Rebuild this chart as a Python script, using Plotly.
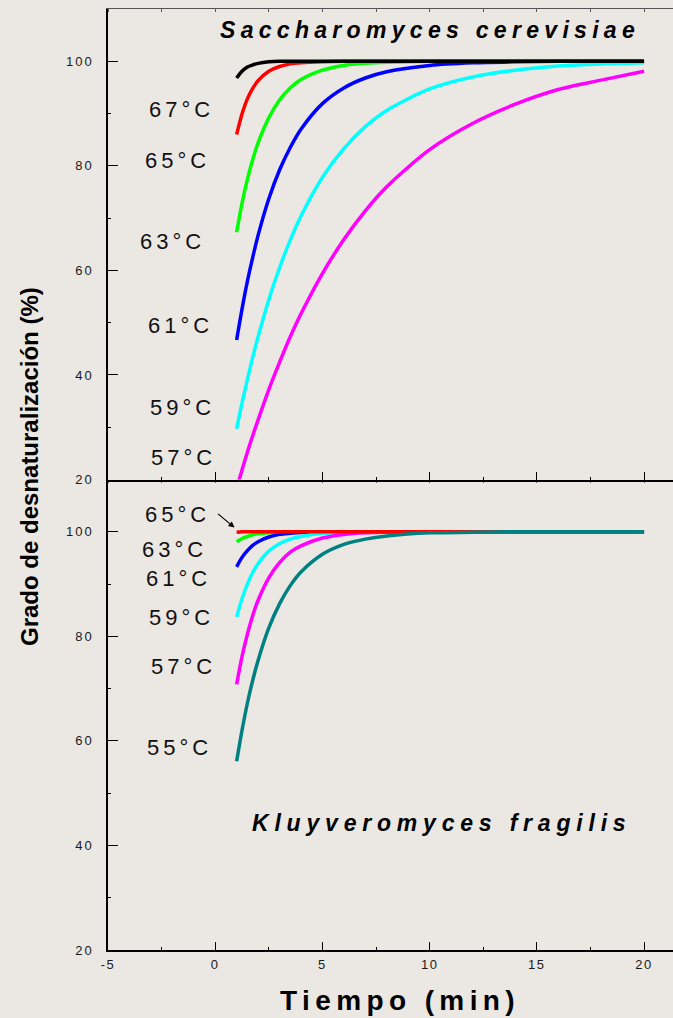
import plotly.graph_objects as go

BG = "rgb(235,231,227)"
FONT = "Liberation Sans, Arial, sans-serif"

# ---------------- data: Saccharomyces cerevisiae (top panel) ----------------
t_sc = [1, 1.25, 1.5, 1.75, 2, 2.5, 3, 3.5, 4, 5, 6, 7, 8, 10, 12, 14, 16, 18, 20]
sc_67 = [96.8, 98.1, 98.9, 99.3, 99.6, 99.9, 100, 100, 100, 100, 100, 100, 100, 100, 100, 100, 100, 100, 100]
sc_65 = [86.0, 89.9, 92.8, 94.8, 96.3, 98.1, 99.0, 99.5, 99.7, 99.9, 100, 100, 100, 100, 100, 100, 100, 100, 100]
sc_63 = [67.3, 72.8, 77.4, 81.2, 84.4, 89.2, 92.6, 94.9, 96.5, 98.3, 99.2, 99.6, 99.8, 100, 100, 100, 100, 100, 100]
sc_61 = [46.7, 52.6, 57.9, 62.5, 66.7, 73.7, 79.2, 83.5, 87.0, 91.9, 94.9, 96.8, 98.0, 99.2, 99.7, 99.9, 100, 100, 100]
sc_59 = [29.7, 34.6, 39.1, 43.4, 47.3, 54.4, 60.5, 65.8, 70.4, 77.8, 83.3, 87.5, 90.6, 94.7, 97.0, 98.3, 99.1, 99.5, 99.7]
sc_57 = [18.3, 21.8, 25.2, 28.4, 31.4, 37.2, 42.4, 47.3, 51.7, 59.4, 65.9, 71.4, 76.0, 83.1, 88.1, 91.8, 94.6, 96.4, 98.1]

# ---------------- data: Kluyveromyces fragilis (bottom panel) ----------------
t_kf = [1, 1.25, 1.5, 1.75, 2, 2.5, 3, 3.5, 4, 5, 6, 7, 8, 10, 12, 14, 16, 18, 20]
kf_65 = [99.9, 100, 100, 100, 100, 100, 100, 100, 100, 100, 100, 100, 100, 100, 100, 100, 100, 100, 100]
kf_63 = [98.1, 98.7, 99.1, 99.4, 99.6, 99.8, 99.9, 100, 100, 100, 100, 100, 100, 100, 100, 100, 100, 100, 100]
kf_61 = [93.3, 95.1, 96.4, 97.4, 98.1, 99.0, 99.5, 99.7, 99.85, 100, 100, 100, 100, 100, 100, 100, 100, 100, 100]
kf_59 = [83.7, 87.2, 90.0, 92.2, 93.9, 96.3, 97.7, 98.6, 99.1, 99.7, 99.9, 100, 100, 100, 100, 100, 100, 100, 100]
kf_57 = [70.8, 76.1, 80.4, 84.0, 86.9, 91.2, 94.1, 96.1, 97.3, 98.8, 99.5, 99.8, 99.9, 100, 100, 100, 100, 100, 100]
kf_55 = [56.1, 62.0, 67.2, 71.6, 75.4, 81.6, 86.2, 89.7, 92.3, 95.7, 97.6, 98.6, 99.2, 99.8, 99.9, 100, 100, 100, 100]

x_ticks = [-5, 0, 5, 10, 15, 20]
y_ticks = [20, 40, 60, 80, 100]

# temperature labels
sc_labels = ["67°C", "65°C", "63°C", "61°C", "59°C", "57°C"]
kf_labels = ["65°C", "63°C", "61°C", "59°C", "57°C", "55°C"]


def sp(text, px):
    return "<span style='letter-spacing:%gpx'>%s</span>" % (px, text)


fig = go.Figure()

top_series = [(sc_57, "#FF00FF", "57°C"), (sc_59, "#00FFFF", "59°C"), (sc_61, "#0000FF", "61°C"),
              (sc_63, "#00FF00", "63°C"), (sc_65, "#FF0000", "65°C"), (sc_67, "#000000", "67°C")]
for ys, col, nm in top_series:
    fig.add_trace(go.Scatter(x=t_sc, y=ys, mode="lines", name=nm, xaxis="x2", yaxis="y2",
                             line=dict(color=col, width=3.5, shape="spline", smoothing=0.8),
                             showlegend=False))

bot_series = [(kf_63, "#00FF00", "63°C"), (kf_61, "#0000FF", "61°C"), (kf_59, "#00FFFF", "59°C"),
              (kf_57, "#FF00FF", "57°C"), (kf_65, "#FF0000", "65°C"), (kf_55, "#008080", "55°C")]
for ys, col, nm in bot_series:
    fig.add_trace(go.Scatter(x=t_kf, y=ys, mode="lines", name=nm, xaxis="x", yaxis="y",
                             line=dict(color=col, width=3.5, shape="spline", smoothing=0.8),
                             showlegend=False))

# invisible traces so overlay axes (top border ticks) get drawn
fig.add_trace(go.Scatter(x=[None], y=[None], xaxis="x3", yaxis="y2", showlegend=False, hoverinfo="skip"))
fig.add_trace(go.Scatter(x=[None], y=[None], xaxis="x4", yaxis="y", showlegend=False, hoverinfo="skip"))

XR = [-5, 21.35]
YR = [20, 110]
tick_font = dict(family=FONT, size=13, color="#1a1a1a")
xticktext = [sp(str(v), 1.5) for v in x_ticks]
yticktext = [sp(str(v), 2) for v in y_ticks]

common_y = dict(range=YR, tickvals=y_ticks, ticktext=yticktext, ticks="inside", ticklen=10,
                tickwidth=1.2, tickcolor="black", showline=True, linecolor="black", linewidth=1.5,
                showgrid=False, zeroline=False, tickfont=tick_font, ticklabelstandoff=10,
                minor=dict(ticks="inside", ticklen=3, dtick=10, tickcolor="black", tickwidth=1))

fig.update_layout(
    width=673, height=1018,
    margin=dict(l=108, r=0, t=9, b=68),
    paper_bgcolor=BG, plot_bgcolor=BG,
    showlegend=False,
    xaxis=dict(domain=[0, 1], anchor="y", range=XR, tickvals=x_ticks, ticktext=xticktext,
               ticks="inside", ticklen=8, tickwidth=1.2, tickcolor="black",
               showline=True, linecolor="black", linewidth=1.5, showgrid=False, zeroline=False,
               tickfont=tick_font, ticklabelstandoff=2,
               minor=dict(ticks="inside", ticklen=3, dtick=2.5, tickcolor="black", tickwidth=1)),
    yaxis=dict(domain=[0, 0.5], anchor="x", **common_y),
    xaxis2=dict(domain=[0, 1], anchor="y2", matches="x", range=XR, tickvals=x_ticks,
                showticklabels=False, ticks="inside", ticklen=8, tickwidth=1.2, tickcolor="black",
                showline=True, linecolor="black", linewidth=1.5, showgrid=False, zeroline=False,
                minor=dict(ticks="inside", ticklen=3, dtick=2.5, tickcolor="black", tickwidth=1)),
    yaxis2=dict(domain=[0.5, 1], anchor="x2", **common_y),
    xaxis3=dict(overlaying="x2", anchor="y2", side="top", range=XR, tickvals=[], showticklabels=False,
                showline=True, linecolor="#555555", linewidth=1, showgrid=False, zeroline=False,
                minor=dict(ticks="inside", ticklen=3, dtick=2.5, tickcolor="#555555", tickwidth=1)),
    xaxis4=dict(overlaying="x", anchor="y", side="top", range=XR, tickvals=[], showticklabels=False,
                showline=False, showgrid=False, zeroline=False,
                minor=dict(ticks="inside", ticklen=3, dtick=2.5, tickcolor="#555555", tickwidth=1)),
)

lab_font = dict(family=FONT, size=22, color="#111111")
sc_pos = [(0.02, 90.7), (-0.17, 81.0), (-0.40, 65.6), (-0.03, 49.5), (0.06, 33.8), (0.11, 24.2)]
for txt, (xx, yy) in zip(sc_labels, sc_pos):
    fig.add_annotation(x=xx, y=yy, xref="x2", yref="y2", text=sp(txt, 4), showarrow=False,
                       xanchor="right", yanchor="middle", font=lab_font)

kf_pos = [(-0.17, 103.4), (-0.28, 96.7), (-0.10, 91.1), (0.04, 83.6), (0.11, 74.2), (-0.06, 58.8)]
for txt, (xx, yy) in zip(kf_labels, kf_pos):
    fig.add_annotation(x=xx, y=yy, xref="x", yref="y", text=sp(txt, 4), showarrow=False,
                       xanchor="right", yanchor="middle", font=lab_font)

# arrow pointing to the 65 °C curve (bottom panel)
fig.add_annotation(x=0.9, y=100.8, xref="x", yref="y", text="", showarrow=True,
                   ax=-18, ay=-15, arrowhead=2, arrowsize=1, arrowwidth=1.2, arrowcolor="black",
                   standoff=0)

# species titles
sp_font = dict(family=FONT, size=23, color="black", weight="bold", style="italic")
fig.add_annotation(x=10.0, y=105.9, xref="x2", yref="y2", text=sp("Saccharomyces cerevisiae", 5.3),
                   showarrow=False, xanchor="center", yanchor="middle", font=sp_font)
fig.add_annotation(x=10.55, y=44.3, xref="x", yref="y", text=sp("Kluyveromyces fragilis", 5.8),
                   showarrow=False, xanchor="center", yanchor="middle", font=sp_font)

# axis titles
fig.add_annotation(x=8.6, y=-(1000 - 950) / 941, xref="x", yref="paper", text=sp("Tiempo (min)", 5.4),
                   showarrow=False, xanchor="center", yanchor="middle",
                   font=dict(family=FONT, size=28, color="black", weight="bold"))
fig.add_annotation(x=(29 - 108) / 565, y=(950 - 467) / 941, xref="paper", yref="paper",
                   text="Grado de desnaturalización (%)", textangle=-90, showarrow=False,
                   xanchor="center", yanchor="middle",
                   font=dict(family=FONT, size=24, color="black", weight="bold"))

fig.write_html("out.html")
